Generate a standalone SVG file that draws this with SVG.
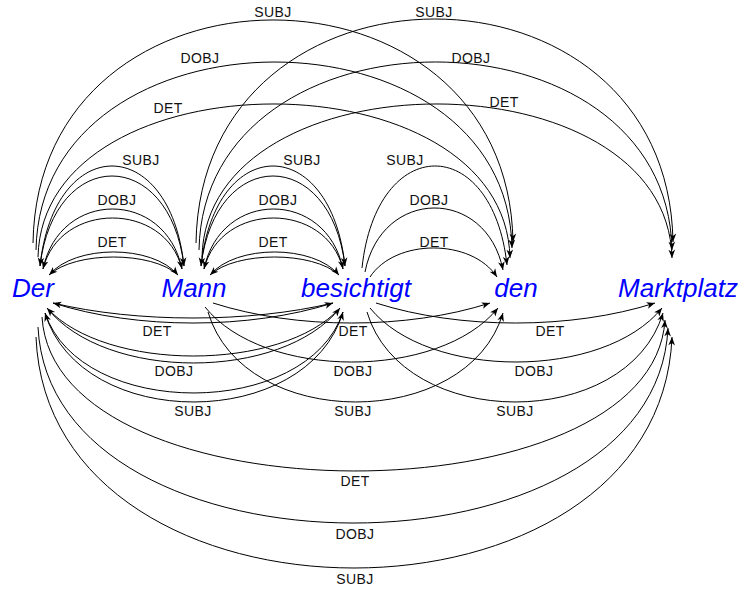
<svg xmlns="http://www.w3.org/2000/svg" width="740" height="591" viewBox="0 0 740 591">
  <defs>
    <marker id="arrow" markerUnits="userSpaceOnUse" markerWidth="10" markerHeight="10" viewBox="-8 -4 9 8" refX="0" refY="0" orient="auto">
      <path d="M0,0 L-7.5,-3 L-5.5,0 L-7.5,3 Z" fill="#000"/>
    </marker>
    <style>
      .word { font-family: "Liberation Sans", Arial, sans-serif; font-style: italic; font-size: 26px; fill: #0000ff; text-anchor: middle; }
      .lbl { font-family: "Liberation Sans", Arial, sans-serif; font-size: 14px; letter-spacing: 0.4px; fill: #111; text-anchor: middle; }
      .arc { fill: none; stroke: #000; stroke-width: 1; marker-end: url(#arrow); }
    </style>
  </defs>
  <rect width="740" height="591" fill="#fff"/>

  <!-- words -->
  <g id="w-der"><text class="word" x="33" y="297">Der</text></g>
  <g id="w-mann"><text class="word" x="194" y="297">Mann</text></g>
  <g id="w-besichtigt"><text class="word" x="356" y="297">besichtigt</text></g>
  <g id="w-den"><text class="word" x="516" y="297">den</text></g>
  <g id="w-marktplatz"><text class="word" x="678" y="297">Marktplatz</text></g>

  <g id="edges">
    <!-- above: Der <-> Mann -->
    <path class="arc" d="M40,266 C54.4,132.7 169.6,132.7 184,266"/>
    <path class="arc" d="M184,266 C169.6,146 54.4,146 40,266"/>
    <path class="arc" d="M43,269 C59.7,189 165.3,189 182,269"/>
    <path class="arc" d="M182,269 C165.3,201 59.7,201 43,269"/>
    <path class="arc" d="M49,275 C74.8,244.3 152.2,244.3 178,275"/>
    <path class="arc" d="M178,275 C152.2,251 74.8,251 49,275"/>
    <text class="lbl" x="141" y="165">SUBJ</text>
    <text class="lbl" x="117" y="205">DOBJ</text>
    <text class="lbl" x="112" y="247">DET</text>

    <!-- above: Mann <-> besichtigt -->
    <path class="arc" d="M201,266 C215.4,132.7 330.6,132.7 345,266"/>
    <path class="arc" d="M345,266 C330.6,146 215.4,146 201,266"/>
    <path class="arc" d="M204,269 C220.7,189 326.3,189 343,269"/>
    <path class="arc" d="M343,269 C326.3,201 220.7,201 204,269"/>
    <path class="arc" d="M210,275 C235.8,244.3 313.2,244.3 339,275"/>
    <path class="arc" d="M339,275 C313.2,251 235.8,251 210,275"/>
    <text class="lbl" x="302" y="165">SUBJ</text>
    <text class="lbl" x="278" y="205">DOBJ</text>
    <text class="lbl" x="273" y="247">DET</text>

    <!-- above: besichtigt -> den -->
    <path class="arc" d="M362,268 C376.5,132.5 492.5,132.5 507,265"/>
    <path class="arc" d="M365,272 C381.6,187 486.4,187 503,270"/>
    <path class="arc" d="M370,277 C395.4,238.3 471.6,238.3 497,277"/>
    <text class="lbl" x="405" y="165">SUBJ</text>
    <text class="lbl" x="429" y="205">DOBJ</text>
    <text class="lbl" x="434" y="247">DET</text>

    <!-- above: Der -> den -->
    <path class="arc" d="M33,243 C37.8,-54.2 508.2,-54.2 513,242"/>
    <path class="arc" d="M36,250 C40.8,-0.3 507.2,-0.3 512,248"/>
    <path class="arc" d="M38,257 C42.7,52.8 505.3,52.8 510,258"/>
    <text class="lbl" x="273" y="17">SUBJ</text>
    <text class="lbl" x="200" y="63">DOBJ</text>
    <text class="lbl" x="168" y="113">DET</text>

    <!-- above: Mann -> Marktplatz -->
    <path class="arc" d="M196,243 C200.8,-55.5 668.2,-55.5 673,242"/>
    <path class="arc" d="M199,250 C203.7,-0.7 667.3,-0.7 672,250"/>
    <path class="arc" d="M202,257 C206.7,52.8 667.3,52.8 672,258"/>
    <text class="lbl" x="434" y="17">SUBJ</text>
    <text class="lbl" x="471" y="63">DOBJ</text>
    <text class="lbl" x="504" y="107">DET</text>

    <!-- below: Der <-> besichtigt -->
    <path class="arc" d="M53,303 C137,329.7 249,329.7 333,303"/>
    <path class="arc" d="M333,303 C249,323 137,323 53,303"/>
    <path class="arc" d="M47,308 C105.6,381.3 281.4,381.3 340,308"/>
    <path class="arc" d="M340,308 C281.4,372 105.6,372 47,308"/>
    <path class="arc" d="M45,313 C80.8,431.8 307.2,431.8 343,312"/>
    <path class="arc" d="M343,312 C307.2,419.8 80.8,419.8 45,313"/>
    <text class="lbl" x="157" y="336">DET</text>
    <text class="lbl" x="174" y="376">DOBJ</text>
    <text class="lbl" x="193" y="416">SUBJ</text>

    <!-- below: Mann -> den -->
    <path class="arc" d="M213,303 C296,329.7 407,329.7 490,303"/>
    <path class="arc" d="M205,307 C263.6,380.2 439.4,380.2 498,308"/>
    <path class="arc" d="M208,312 C243.4,431.8 467.6,431.8 503,313"/>
    <text class="lbl" x="353" y="336">DET</text>
    <text class="lbl" x="353" y="376">DOBJ</text>
    <text class="lbl" x="353" y="416">SUBJ</text>

    <!-- below: besichtigt -> Marktplatz -->
    <path class="arc" d="M376,303 C459.7,329.7 571.3,329.7 655,303"/>
    <path class="arc" d="M370,308 C428.4,380 603.6,380 662,308"/>
    <path class="arc" d="M367,312 C402.5,431.8 627.5,431.8 663,313"/>
    <text class="lbl" x="550" y="336">DET</text>
    <text class="lbl" x="534" y="376">DOBJ</text>
    <text class="lbl" x="515" y="416">SUBJ</text>

    <!-- below: Der -> Marktplatz -->
    <path class="arc" d="M42,317 C54.5,521.8 652.5,521.8 665,320"/>
    <path class="arc" d="M38,327 C50.6,588.2 655.4,588.2 668,328"/>
    <path class="arc" d="M36,337 C48.7,645 659.3,645 672,337"/>
    <text class="lbl" x="355" y="486">DET</text>
    <text class="lbl" x="355" y="539">DOBJ</text>
    <text class="lbl" x="355" y="584">SUBJ</text>
  </g>
</svg>
